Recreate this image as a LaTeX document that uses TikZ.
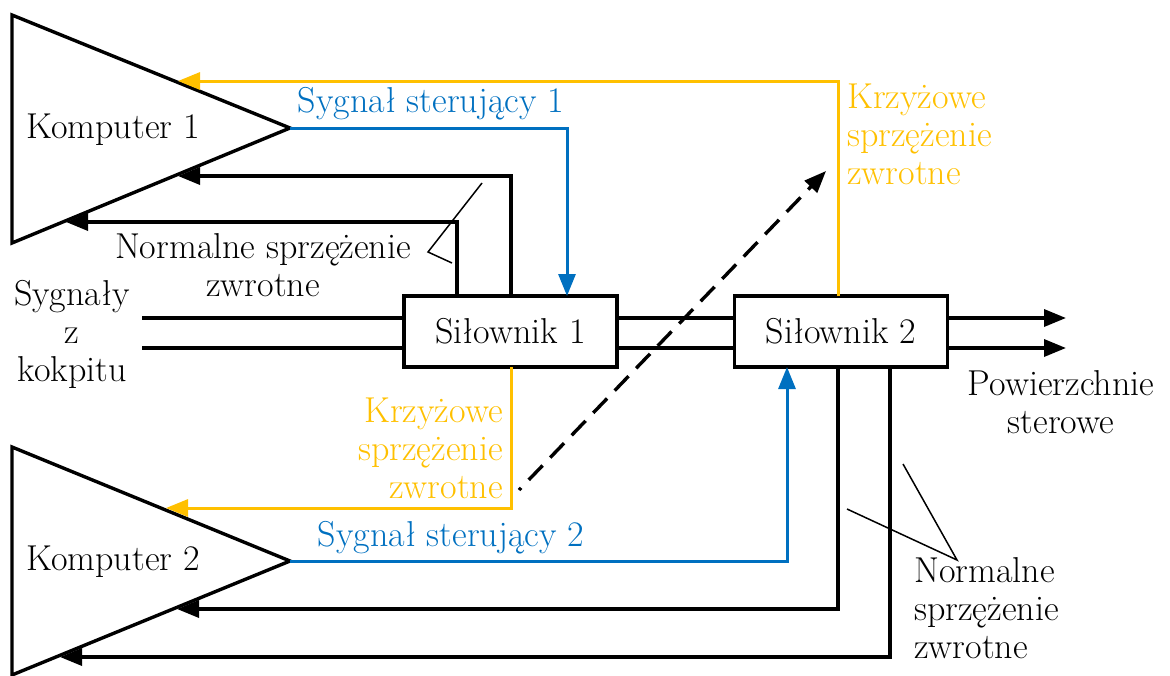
\documentclass[tikz,border=0pt]{standalone}
\usepackage{fontspec}
\usetikzlibrary{arrows.meta}
\definecolor{korange}{HTML}{FFC000}
\definecolor{kblue}{HTML}{0070C0}
\begin{document}
\begin{tikzpicture}[x=1pt,y=-1pt,
  font=\fontsize{36}{38}\selectfont,
  wire/.style={line width=3.4pt},
  owire/.style={line width=3pt, draw=korange},
  bwire/.style={line width=3pt, draw=kblue},
  thin line/.style={line width=1.5pt},
  tip/.style={-{Triangle[length=22pt,width=17pt]}},
  otip/.style={-{Triangle[length=22pt,width=17pt,fill=korange]}},
  btip/.style={-{Triangle[length=22pt,width=17pt,fill=kblue]}},
  actbox/.style={draw, line width=3.4pt, minimum width=213pt, minimum height=71pt, inner sep=0pt},
  lbl/.style={inner sep=0pt, align=center}]
\useasboundingbox (0,0) rectangle (1170,675);

% Computers (triangles)
\coordinate (k1a) at (12,15);
\coordinate (k1c) at (290,128);
\coordinate (k1b) at (12,243);
\draw[wire, line join=miter] (k1a) -- (k1c) -- (k1b) -- cycle;
\node[lbl] (k1) at (113,130) {Komputer 1};

\coordinate (k2a) at (12,447);
\coordinate (k2c) at (290,561);
\coordinate (k2b) at (12,675);
\draw[wire, line join=miter] (k2a) -- (k2c) -- (k2b) -- cycle;
\node[lbl] (k2) at (113,562) {Komputer 2};

% Actuators
\node[actbox] (s1) at (510.5,331.5) {Siłownik 1};
\node[actbox] (s2) at (841,331.5) {Siłownik 2};

% ports
\coordinate (s1t1) at (457,296);
\coordinate (s1t2) at (511,296);
\coordinate (s1t3) at (567,296);
\coordinate (s1b) at (511,367);
\coordinate (s2t) at (838,296);
\coordinate (s2b1) at (787,367);
\coordinate (s2b2) at (838,367);
\coordinate (s2b3) at (890,367);
\coordinate (k1o) at (178,81);
\coordinate (k1i1) at (178,176);
\coordinate (k1i2) at (66,222);
\coordinate (k2o) at (166,508);
\coordinate (k2i1) at (177,609);
\coordinate (k2i2) at (60,657);

% cross feedback
\draw[owire, otip] (s2t) |- (k1o);
\draw[owire, otip] (s1b) |- (k2o);
% control signals
\draw[bwire, btip] (k1c) -| (s1t3);
\draw[bwire, btip] (k2c) -| (s2b1);
% normal feedback
\draw[wire, tip] (s1t2) |- (k1i1);
\draw[wire, tip] (s1t1) |- (k1i2);
\draw[wire, tip] (s2b2) |- (k2i1);
\draw[wire, tip] (s2b3) |- (k2i2);

% cockpit inputs
\coordinate (in1) at (142,318);
\coordinate (in2) at (142,348);
\coordinate (s1w1) at (404,318);
\coordinate (s1w2) at (404,348);
\draw[wire] (in1) -- (s1w1);
\draw[wire] (in2) -- (s1w2);
% between actuators
\coordinate (s1e1) at (617,318);
\coordinate (s1e2) at (617,348);
\coordinate (s2w1) at (735,318);
\coordinate (s2w2) at (735,348);
\draw[wire] (s1e1) -- (s2w1);
\draw[wire] (s1e2) -- (s2w2);
% outputs
\coordinate (s2e1) at (947,318);
\coordinate (s2e2) at (947,348);
\coordinate (out1) at (1066,318);
\coordinate (out2) at (1066,348);
\draw[wire, tip] (s2e1) -- (out1);
\draw[wire, tip] (s2e2) -- (out2);

% dashed arrow
\coordinate (d0) at (519,490);
\coordinate (d1) at (826,171);
\draw[wire, tip, dash pattern=on 20pt off 11pt, dash phase=17pt] (d0) -- (d1);

% labels
\node[lbl, text=kblue] (sig1) at (431,104) {Sygnał sterujący 1};
\node[lbl, text=kblue] (sig2) at (451,538) {Sygnał sterujący 2};
\node[lbl, text=korange, align=left, anchor=west] (cf1) at (847,134) {Krzyżowe\\sprzężenie\\zwrotne};
\node[lbl, text=korange, align=right, anchor=east] (cf2) at (503,448) {Krzyżowe\\sprzężenie\\zwrotne};
\node[lbl] (nf1) at (263,265) {Normalne sprzężenie\\zwrotne};
\node[lbl, align=left, anchor=west] (nf2) at (914,608) {Normalne\\sprzężenie\\zwrotne};
\node[lbl] (cock) at (72,334) {Sygnały\\z\\kokpitu};
\node[lbl] (surf) at (1061,402) {Powierzchnie\\sterowe};

% annotation leaders
\coordinate (n1) at (428,252);
\coordinate (n1a) at (482,183);
\coordinate (n1b) at (452,263);
\draw[thin line] (n1a) -- (n1) -- (n1b);
\coordinate (n2) at (957,560);
\coordinate (n2a) at (847,509);
\coordinate (n2b) at (903,464);
\draw[thin line] (n2a) -- (n2) -- (n2b);
\end{tikzpicture}
\end{document}
